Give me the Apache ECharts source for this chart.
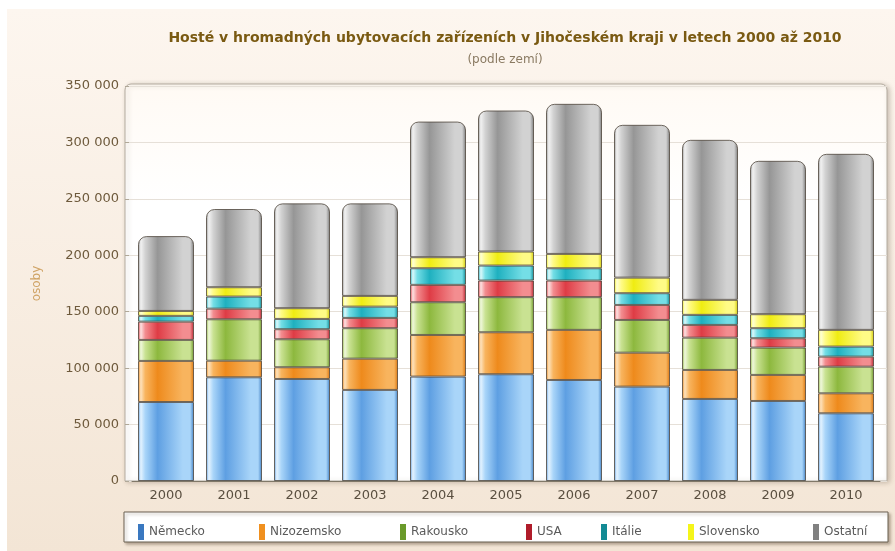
<!DOCTYPE html>
<html>
<head>
<meta charset="utf-8">
<script src="https://cdn.jsdelivr.net/npm/echarts@6/dist/echarts.min.js"></script>
<style>
  html, body { margin: 0; padding: 0; background: #fff; }
  #chart { width: 895px; height: 551px; }
</style>
</head>
<body>
<div id="chart"></div>
<script>
var myChart = echarts.init(document.getElementById('chart'));

var years = ['2000', '2001', '2002', '2003', '2004', '2005', '2006', '2007', '2008', '2009', '2010'];
var nemecko    = [70000, 91900, 90400, 80700, 92500, 94600, 89500, 83600, 72700, 70900, 60000];
var nizozemsko = [36400, 14700, 10400, 27700, 36900, 37200, 44400, 30100, 25700, 23100, 17700];
var rakousko   = [18600, 36700, 24800, 27000, 29000, 31100, 29000, 29000, 28600, 24200, 23600];
var usa        = [16200, 9400, 8900, 9100, 15400, 14700, 14700, 13300, 11300, 8300, 8900];
var italie     = [5100, 10700, 9100, 10000, 14700, 13300, 10900, 10400, 8900, 8900, 8900];
var slovensko  = [4400, 8300, 9500, 9500, 9800, 12400, 12700, 13800, 13300, 12400, 14800];
var ostatni    = [66300, 69300, 92900, 82000, 120200, 125000, 133000, 135400, 141800, 135900, 156000];

var names = ['Německo', 'Nizozemsko', 'Rakousko', 'USA', 'Itálie', 'Slovensko', 'Ostatní'];
var values = [nemecko, nizozemsko, rakousko, usa, italie, slovensko, ostatni];

// barvy: [tmava, stredni, svetla, odlesk, legenda]
var colors = [
    ['#3f7fc4', '#5e9fe2', '#a9d5f9', '#e4f3ff', '#3a78c0'],
    ['#d8730c', '#ee8a1c', '#f8b45e', '#fde2bd', '#f0901f'],
    ['#6a9428', '#8db83e', '#c9e292', '#f0f8dc', '#6a9a2a'],
    ['#b82430', '#de3c45', '#f38d90', '#fde2e2', '#b01c2a'],
    ['#0f8893', '#1fb0bf', '#74dee6', '#dcf9fb', '#138a94'],
    ['#cfc800', '#efec12', '#fffb86', '#ffffd6', '#f5f51a'],
    ['#7a7a7a', '#969696', '#d2d2d2', '#f2f2f2', '#808080']
];

function gloss(c) {
    return new echarts.graphic.LinearGradient(0, 0, 1, 0, [
        {offset: 0, color: c[1]},
        {offset: 0.05, color: c[3]},
        {offset: 0.13, color: c[2]},
        {offset: 0.35, color: c[1]},
        {offset: 0.8, color: c[2]},
        {offset: 0.93, color: c[2]},
        {offset: 1, color: c[0]}
    ]);
}

var series = names.map(function (n, i) {
    return {
        name: n,
        type: 'bar',
        stack: 'celkem',
        xAxisIndex: 0,
        yAxisIndex: 0,
        barWidth: 56,
        data: values[i],
        itemStyle: {
            color: gloss(colors[i]),
            borderColor: 'rgba(70,60,50,0.75)',
            borderWidth: 1,
            borderRadius: i === names.length - 1 ? [8, 8, 0, 0] : 0
        },
        emphasis: {disabled: true}
    };
});

// legenda - kazda polozka zvlast kvuli presnym pozicim
var legendLeft = [133, 254, 395, 521, 596, 683, 808];
var legends = names.map(function (n, i) {
    return {
        data: [{name: n, itemStyle: {color: colors[i][4], borderWidth: 0}}],
        left: legendLeft[i],
        top: 519,
        icon: 'rect',
        itemWidth: 6,
        itemHeight: 16,
        selectedMode: false,
        textStyle: {color: '#5a5a5a', fontSize: 12, fontFamily: 'DejaVu Sans'}
    };
});

var fmt = function (v) {
    return String(v).replace(/\B(?=(\d{3})+(?!\d))/g, ' ');
};

option = {
    backgroundColor: '#ffffff',
    animation: false,
    graphic: [
        {
            type: 'rect', z: -30,
            shape: {x: 7, y: 9, width: 888, height: 542},
            style: {fill: new echarts.graphic.LinearGradient(0, 0, 0, 1, [
                {offset: 0, color: '#fdf6ef'},
                {offset: 1, color: '#f3e5d5'}
            ])}
        },
        {
            type: 'rect', z: -20,
            shape: {x: 125, y: 84, width: 762, height: 397, r: [6, 6, 0, 0]},
            style: {
                fill: new echarts.graphic.LinearGradient(0, 0, 0, 1, [
                    {offset: 0, color: '#fffaf4'},
                    {offset: 0.3, color: '#ffffff'},
                    {offset: 1, color: '#ffffff'}
                ]),
                stroke: '#b4aca0', lineWidth: 1,
                shadowBlur: 5, shadowOffsetX: 2, shadowOffsetY: 1,
                shadowColor: 'rgba(90,70,50,0.3)'
            }
        },
        {
            type: 'rect', z: 1,
            shape: {x: 124, y: 512, width: 764, height: 30},
            style: {
                fill: '#ffffff', stroke: '#6b6050', lineWidth: 1,
                shadowBlur: 3, shadowOffsetX: 2, shadowOffsetY: 2,
                shadowColor: 'rgba(60,40,20,0.35)'
            }
        },
        {
            type: 'text', z: 5,
            style: {
                text: 'Hosté v hromadných ubytovacích zařízeních v Jihočeském kraji v letech 2000 až 2010',
                x: 505, y: 38, textAlign: 'center', textVerticalAlign: 'middle',
                font: 'bold 14px "DejaVu Sans"', fill: '#7a5a12'
            }
        },
        {
            type: 'text', z: 5,
            style: {
                text: '(podle zemí)',
                x: 505, y: 60, textAlign: 'center', textVerticalAlign: 'middle',
                font: '12px "DejaVu Sans"', fill: '#8a7a62'
            }
        }
    ],
    legend: legends,
    grid: [
        {left: 132, right: 15, top: 86, bottom: 70},
        {left: 125, right: 8, top: 86, bottom: 70}
    ],
    xAxis: [
        {
            type: 'category',
            gridIndex: 0,
            data: years,
            axisLine: {lineStyle: {color: '#807868'}},
            axisTick: {show: false},
            axisLabel: {color: '#5a4f40', fontSize: 13, fontFamily: 'DejaVu Sans', margin: 8}
        },
        {type: 'value', gridIndex: 1, show: false, min: 0, max: 1}
    ],
    yAxis: [
        {type: 'value', gridIndex: 0, min: 0, max: 350000, interval: 50000, show: false},
        {
            type: 'value',
            gridIndex: 1,
            min: 0, max: 350000, interval: 50000,
            name: 'osoby',
            nameLocation: 'middle',
            nameRotate: 90,
            nameGap: 82,
            nameTextStyle: {color: '#d0a466', fontSize: 12, fontFamily: 'DejaVu Sans'},
            axisLine: {show: false},
            axisTick: {show: true, inside: true, length: 4, lineStyle: {color: '#b0a898'}},
            splitLine: {lineStyle: {color: '#e6e0d8'}},
            axisLabel: {color: '#6e5a3c', fontSize: 13, fontFamily: 'DejaVu Sans', margin: 6, formatter: fmt}
        }
    ],
    series: series
};
myChart.setOption(option);
</script>
</body>
</html>
